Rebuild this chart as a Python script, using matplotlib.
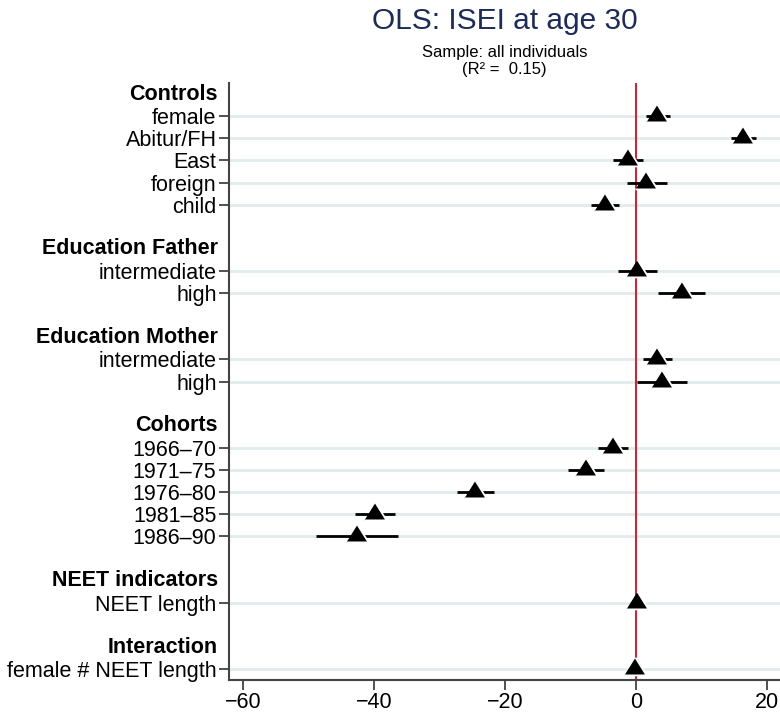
import matplotlib.pyplot as plt
import matplotlib.transforms as mtransforms

plt.rcParams['font.family'] = ['Liberation Sans', 'DejaVu Sans']

# groups of coefficients: (header, labels, estimate, ci low, ci high)
groups = ['Controls', 'Education Father', 'Education Mother', 'Cohorts',
          'NEET indicators', 'Interaction']

controls_lab = ['female', 'Abitur/FH', 'East', 'foreign', 'child']
controls_b = [3.25, 16.4, -1.2, 1.6, -4.7]
controls_lo = [1.5, 14.5, -3.5, -1.4, -6.8]
controls_hi = [5.2, 18.3, 1.1, 4.7, -2.6]

father_lab = ['intermediate', 'high']
father_b = [0.2, 7.0]
father_lo = [-2.7, 3.4]
father_hi = [3.2, 10.6]

mother_lab = ['intermediate', 'high']
mother_b = [3.3, 4.0]
mother_lo = [1.1, 0.2]
mother_hi = [5.5, 7.8]

cohort_lab = ['1966\u201370', '1971\u201375', '1976\u201380', '1981\u201385', '1986\u201390']
cohort_b = [-3.5, -7.6, -24.6, -39.8, -42.6]
cohort_lo = [-5.8, -10.3, -27.3, -42.8, -48.8]
cohort_hi = [-1.2, -4.9, -21.7, -36.7, -36.3]

neet_lab = ['NEET length']
neet_b = [0.15]
neet_lo = [-0.3]
neet_hi = [0.6]

inter_lab = ['female # NEET length']
inter_b = [-0.1]
inter_lo = [-0.5]
inter_hi = [0.3]

xticks = [-60, -40, -20, 0, 20]

blocks = [
    (controls_lab, controls_b, controls_lo, controls_hi),
    (father_lab, father_b, father_lo, father_hi),
    (mother_lab, mother_b, mother_lo, mother_hi),
    (cohort_lab, cohort_b, cohort_lo, cohort_hi),
    (neet_lab, neet_b, neet_lo, neet_hi),
    (inter_lab, inter_b, inter_lo, inter_hi),
]

fig = plt.figure(figsize=(7.8, 7.12), dpi=100)
ax = fig.add_axes([229 / 780, 1 - 680 / 712, 1 - 229 / 780, 597 / 712])

# lay out rows: header, items, then a blank row
pos = 0
head_pos = []
ypos, labels, b, lo, hi = [], [], [], [], []
for (lab, bb, ll, hh) in blocks:
    head_pos.append(pos)
    pos += 1
    for i in range(len(lab)):
        ypos.append(pos)
        labels.append(lab[i])
        b.append(bb[i])
        lo.append(ll[i])
        hi.append(hh[i])
        pos += 1
    pos += 1

for y in ypos:
    ax.axhline(y, color='#e2ecec', lw=2, zorder=0)

ax.axvline(0, color='#c8283c', lw=1.5, zorder=1)

# stata style triangle: wider than tall, centred on its centroid
tri = [(-10, -5.33), (10, -5.33), (0, 10.67)]
ax.hlines(ypos, lo, hi, color='black', lw=2, zorder=2)
ax.plot(b, ypos, linestyle='none', marker=tri, ms=17, color='black',
        mec='white', mew=1.3, zorder=3)

ax.set_xlim(-62.1, 22.0)
ax.set_ylim(26.49, -0.5)
ax.set_xticks(xticks)
ax.set_xticklabels([f'{t}'.replace('-', '\u2212') for t in xticks])
ax.set_yticks(ypos)
ax.set_yticklabels(labels)
ax.tick_params(axis='both', labelsize=15.5, colors='#333333', labelcolor='black',
               length=7, width=1.2)
ax.tick_params(axis='x', pad=1.5)
ax.tick_params(axis='y', pad=2)

for s in ['top', 'right']:
    ax.spines[s].set_visible(False)
for s in ['left', 'bottom']:
    ax.spines[s].set_color('#444444')
    ax.spines[s].set_linewidth(1.5)

# bold group headers, right aligned with tick labels
trans = mtransforms.offset_copy(ax.get_yaxis_transform(), fig=fig, x=-11, y=0, units='dots')
for name, y in zip(groups, head_pos):
    ax.text(0, y, name, transform=trans, ha='right', va='center',
            fontsize=15.5, fontweight='bold', color='black')

cx = (229 + 780) / 2 / 780
fig.text(cx, 1 - 29 / 712, 'OLS: ISEI at age 30', ha='center', va='baseline',
         fontsize=21.5, color='#1c2b57')
fig.text(cx, 1 - 57 / 712, 'Sample: all individuals', ha='center', va='baseline',
         fontsize=12, color='black')
fig.text(cx, 1 - 74 / 712, '(R\u00b2 =  0.15)', ha='center', va='baseline',
         fontsize=12, color='black')

fig.savefig('out.png', dpi=100)
